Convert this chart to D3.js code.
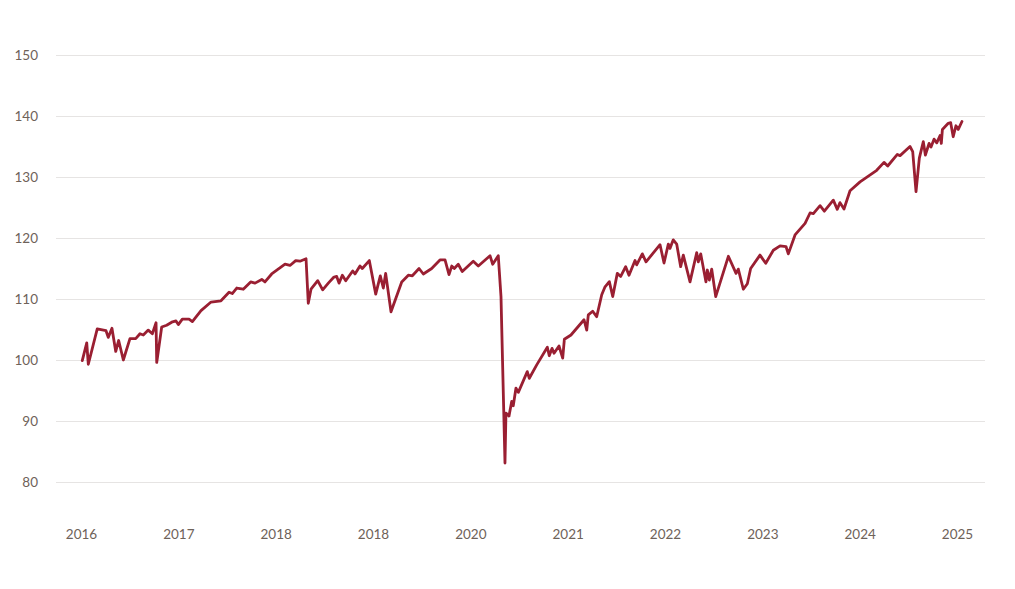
<!DOCTYPE html>
<html>
<head>
<meta charset="utf-8">
<script src="https://cdn.jsdelivr.net/npm/d3@7"></script>
<style>
  html, body { margin: 0; padding: 0; background: #ffffff; }
  svg { display: block; }
  .tick text { font-family: Lato, "Open Sans", sans-serif; font-size: 13.5px; fill: #6e6259; }
</style>
</head>
<body>
<svg id="chart" width="1015" height="589"></svg>
<script>
// ---- data (decimal year, index value) ----
const times = [
  2016.013, 2016.059, 2016.075, 2016.167, 2016.257, 2016.280, 2016.318, 2016.357, 2016.387, 2016.435,
  2016.503, 2016.562, 2016.606, 2016.640, 2016.691, 2016.733, 2016.771, 2016.778, 2016.829, 2016.880,
  2016.932, 2016.976, 2017.000, 2017.041, 2017.110, 2017.144, 2017.233, 2017.336, 2017.438, 2017.521,
  2017.554, 2017.600, 2017.667, 2017.743, 2017.788, 2017.857, 2017.890, 2017.959, 2018.096, 2018.147,
  2018.206, 2018.250, 2018.312, 2018.335, 2018.363, 2018.432, 2018.483, 2018.541, 2018.599, 2018.627,
  2018.651, 2018.685, 2018.720, 2018.791, 2018.815, 2018.866, 2018.890, 2018.962, 2019.028, 2019.075,
  2019.106, 2019.130, 2019.185, 2019.295, 2019.363, 2019.404, 2019.473, 2019.517, 2019.603, 2019.688,
  2019.740, 2019.781, 2019.809, 2019.835, 2019.876, 2019.917, 2020.030, 2020.082, 2020.202, 2020.230,
  2020.287, 2020.315, 2020.356, 2020.366, 2020.397, 2020.425, 2020.441, 2020.469, 2020.493, 2020.585,
  2020.606, 2020.682, 2020.791, 2020.811, 2020.839, 2020.860, 2020.911, 2020.949, 2020.966, 2021.034,
  2021.168, 2021.196, 2021.212, 2021.257, 2021.298, 2021.350, 2021.384, 2021.428, 2021.463, 2021.510,
  2021.545, 2021.596, 2021.630, 2021.692, 2021.709, 2021.767, 2021.805, 2021.949, 2021.990, 2022.034,
  2022.051, 2022.085, 2022.120, 2022.161, 2022.188, 2022.257, 2022.326, 2022.342, 2022.367, 2022.421,
  2022.435, 2022.455, 2022.480, 2022.521, 2022.651, 2022.730, 2022.753, 2022.805, 2022.846, 2022.880,
  2022.976, 2023.035, 2023.113, 2023.182, 2023.243, 2023.267, 2023.336, 2023.439, 2023.490, 2023.524,
  2023.593, 2023.637, 2023.729, 2023.770, 2023.798, 2023.839, 2023.901, 2024.004, 2024.175, 2024.250,
  2024.288, 2024.387, 2024.415, 2024.517, 2024.545, 2024.579, 2024.613, 2024.654, 2024.675, 2024.713,
  2024.733, 2024.764, 2024.792, 2024.826, 2024.839, 2024.850, 2024.910, 2024.935, 2024.961, 2024.989,
  2025.013, 2025.051
];
const values = [
  99.9, 102.8, 99.3, 105.1, 104.8, 103.7, 105.2, 101.4, 103.2, 100.0,
  103.5, 103.5, 104.3, 104.1, 104.9, 104.3, 106.1, 99.6, 105.4, 105.7,
  106.2, 106.4, 105.8, 106.7, 106.7, 106.3, 108.1, 109.5, 109.7, 111.1,
  110.9, 111.8, 111.6, 112.8, 112.6, 113.2, 112.8, 114.1, 115.7, 115.5,
  116.3, 116.2, 116.6, 109.3, 111.6, 113.0, 111.5, 112.6, 113.6, 113.7,
  112.6, 113.9, 113.0, 114.6, 114.1, 115.4, 115.0, 116.3, 110.8, 113.8,
  111.8, 114.2, 107.9, 112.8, 113.9, 113.8, 115.0, 114.1, 115.0, 116.4,
  116.4, 114.0, 115.4, 115.0, 115.7, 114.5, 116.2, 115.4, 117.1, 115.7,
  117.1, 110.4, 83.1, 91.3, 90.8, 93.2, 92.5, 95.4, 94.7, 98.1,
  97.0, 99.2, 102.1, 100.7, 101.9, 101.1, 102.3, 100.3, 103.4, 104.1,
  106.6, 104.9, 107.4, 108.0, 107.1, 110.7, 112.0, 112.85, 110.4, 114.2,
  113.7, 115.3, 113.9, 116.3, 115.6, 117.4, 116.1, 118.9, 115.9, 119.0,
  118.3, 119.7, 119.0, 115.3, 117.2, 112.8, 117.6, 116.1, 117.4, 112.8,
  114.75, 113.1, 114.9, 110.4, 117.0, 114.2, 114.9, 111.6, 112.5, 115.0,
  117.2, 115.85, 118.0, 118.7, 118.6, 117.4, 120.5, 122.4, 124.1, 124.0,
  125.3, 124.4, 126.2, 124.7, 125.8, 124.75, 127.75, 129.2, 131.1, 132.4,
  131.8, 133.7, 133.5, 135.0, 134.15, 127.6, 133.1, 135.8, 133.6, 135.5,
  134.9, 136.2, 135.6, 136.8, 135.5, 137.8, 138.8, 138.9, 136.6, 138.4,
  137.8, 139.1
];
const xTickYears = [2016, 2017, 2018, 2019, 2020, 2021, 2022, 2023, 2024, 2025];
const xTickLabels = ["2016", "2017", "2018", "2018", "2020", "2021", "2022", "2023", "2024", "2025"];
const yTicks = [80, 90, 100, 110, 120, 130, 140, 150];

// ---- drawing ----
const svg = d3.select("#chart");
const x = d3.scaleLinear().domain([2016, 2025]).range([81, 957]);
const y = d3.scaleLinear().domain([80, 150]).range([482, 55]);
const gridLeft = 56, gridRight = 985;

// y axis with gridlines
const yAxis = d3.axisLeft(y)
  .tickValues(yTicks)
  .tickSize(-(gridRight - gridLeft))
  .tickPadding(18)
  .tickFormat(d3.format("d"));
const gy = svg.append("g")
  .attr("transform", `translate(${gridLeft},0)`)
  .call(yAxis);
gy.select(".domain").remove();
gy.selectAll(".tick line").attr("stroke", "#e6e4e3").attr("stroke-width", 1);

// x axis labels
const xAxis = d3.axisBottom(x)
  .tickValues(xTickYears)
  .tickSize(0)
  .tickPadding(0)
  .tickFormat((d, i) => xTickLabels[i]);
const gx = svg.append("g")
  .attr("transform", `translate(0,529)`)
  .call(xAxis);
gx.select(".domain").remove();

// line
const data = times.map((t, i) => ({ t, v: values[i] }));
const line = d3.line().x(d => x(d.t)).y(d => y(d.v));
svg.append("path")
  .datum(data)
  .attr("fill", "none")
  .attr("stroke", "#9a1f32")
  .attr("stroke-width", 2.8)
  .attr("stroke-linejoin", "round")
  .attr("stroke-linecap", "round")
  .attr("d", line);
</script>
</body>
</html>
